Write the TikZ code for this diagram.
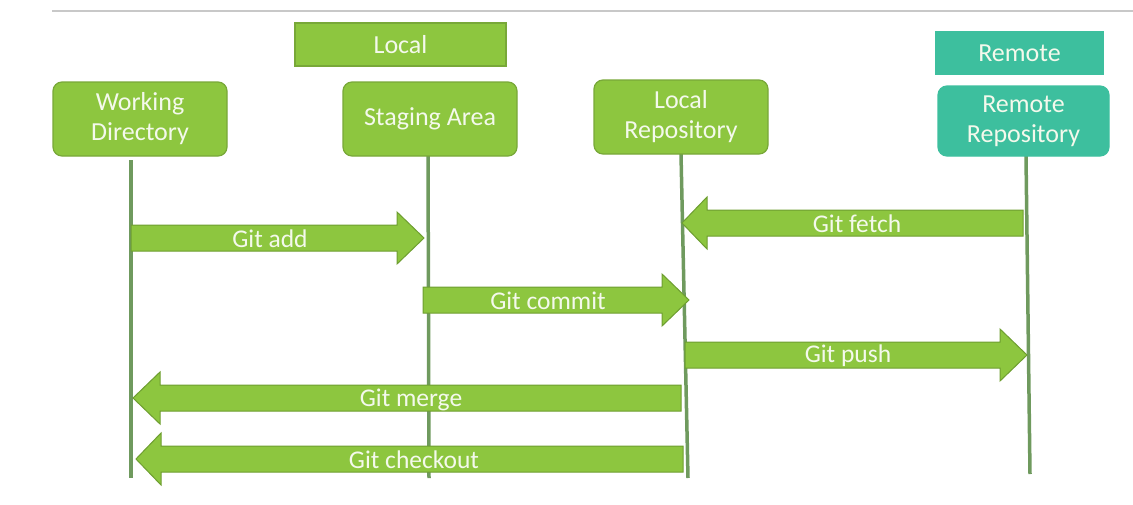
\documentclass[tikz,border=0pt]{standalone}
\usepackage{fontspec}
\setmainfont{Carlito}
\definecolor{gfill}{HTML}{8DC63F}
\definecolor{gline}{HTML}{78A838}
\definecolor{aline}{HTML}{6E9E30}
\definecolor{teal1}{HTML}{3DBF9E}
\definecolor{lifec}{HTML}{6F9A5E}
\definecolor{topc}{HTML}{C8C8C8}
\definecolor{txt}{HTML}{F4F9EC}
\newcommand\garrow[8]{% name, y, tail x, tip x, head base x, label x, label y, text
  \draw[barrow] (#3,#2-13) -- (#5,#2-13) -- (#5,#2-26) -- (#4,#2) -- (#5,#2+26) -- (#5,#2+13) -- (#3,#2+13) -- cycle;
  \node[alabel] (#1) at (#6,#7) {#8};}
\begin{document}
\begin{tikzpicture}[x=1pt,y=-1pt,
  box/.style={draw=gline, fill=gfill, rounded corners=9pt, text=txt, align=center,
    font=\fontsize{26}{30}\selectfont, line width=1.2pt, inner sep=0pt},
  tbox/.style={box, draw=teal1, fill=teal1},
  hdr/.style={draw=gline, fill=gfill, text=txt, font=\fontsize{26}{30}\selectfont, line width=1.2pt, inner sep=0pt},
  thdr/.style={hdr, draw=teal1, fill=teal1},
  life/.style={draw=lifec, line width=3.5pt},
  barrow/.style={draw=aline, fill=gfill, line width=1pt, line join=miter},
  alabel/.style={text=txt, font=\fontsize{25.5}{29}\selectfont, inner sep=0pt}
]
\useasboundingbox (0,0) rectangle (1133,504);
\draw[topc, line width=2pt] (52,11) -- (1133,11);

\node[hdr, minimum width=211pt, minimum height=43pt] (local) at (400.5,44.5) {Local};
\node[thdr, minimum width=167pt, minimum height=42pt] (remote) at (1019.5,53) {Remote};

% lifeline end points
\coordinate (wdt) at (131,160); \coordinate (wdb) at (131,478);
\coordinate (sat) at (428,152); \coordinate (sab) at (429,478);
\coordinate (lrt) at (681,154); \coordinate (lrb) at (688,478);
\coordinate (rrt) at (1026,156); \coordinate (rrb) at (1030,474);
\draw[life] (wdt) -- (wdb);
\draw[life] (sat) -- (sab);
\draw[life] (lrt) -- (lrb);
\draw[life] (rrt) -- (rrb);

\node[box, minimum width=174pt, minimum height=74pt] (wd) at (140,119) {Working\\Directory};
\node[box, minimum width=174pt, minimum height=74pt] (sa) at (430,119) {Staging Area};
\node[box, minimum width=174pt, minimum height=74pt] (lr) at (681,117) {Local\\Repository};
\node[tbox, minimum width=171pt, minimum height=70pt] (rr) at (1023.5,121) {Remote\\Repository};

\garrow{add}{238}{131}{424}{397}{270}{239}{Git add}
\garrow{commit}{300}{423}{689}{662}{548}{301}{Git commit}
\garrow{fetch}{223}{1023}{682}{707}{857}{224}{Git fetch}
\garrow{push}{355}{685}{1027}{1000}{848}{356}{Git push}
\garrow{merge}{398}{681}{133}{160}{411}{400}{Git merge}
\garrow{checkout}{459}{683}{136}{161}{414}{460}{Git checkout}
\end{tikzpicture}
\end{document}
